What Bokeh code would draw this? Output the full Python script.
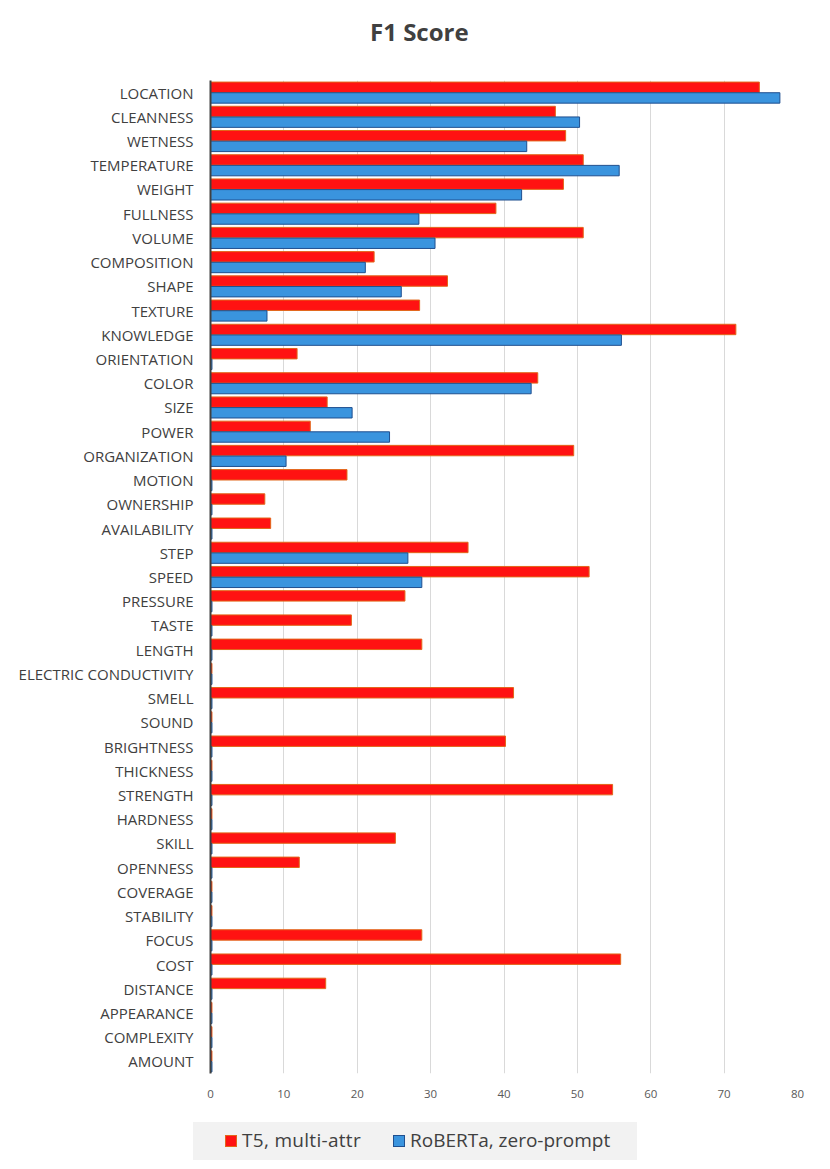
from bokeh.plotting import figure
from bokeh.models import ColumnDataSource, FactorRange, Range1d, FixedTicker, Div
from bokeh.layouts import column
from bokeh.transform import dodge
from bokeh.embed import file_html
from bokeh.resources import INLINE

categories = ["LOCATION", "CLEANNESS", "WETNESS", "TEMPERATURE", "WEIGHT", "FULLNESS",
              "VOLUME", "COMPOSITION", "SHAPE", "TEXTURE", "KNOWLEDGE", "ORIENTATION",
              "COLOR", "SIZE", "POWER", "ORGANIZATION", "MOTION", "OWNERSHIP",
              "AVAILABILITY", "STEP", "SPEED", "PRESSURE", "TASTE", "LENGTH",
              "ELECTRIC CONDUCTIVITY", "SMELL", "SOUND", "BRIGHTNESS", "THICKNESS",
              "STRENGTH", "HARDNESS", "SKILL", "OPENNESS", "COVERAGE", "STABILITY",
              "FOCUS", "COST", "DISTANCE", "APPEARANCE", "COMPLEXITY", "AMOUNT"]

t5_multi_attr = [74.8, 47.0, 48.4, 50.8, 48.1, 38.9,
                 50.8, 22.3, 32.3, 28.5, 71.6, 11.8,
                 44.6, 15.9, 13.6, 49.5, 18.6, 7.4,
                 8.2, 35.1, 51.6, 26.5, 19.2, 28.8,
                 0.2, 41.3, 0.2, 40.2, 0.2,
                 54.8, 0.2, 25.2, 12.1, 0.2, 0.2,
                 28.8, 55.9, 15.7, 0.2, 0.2, 0.2]

roberta_zero_prompt = [77.6, 50.3, 43.1, 55.7, 42.4, 28.4,
                       30.6, 21.1, 26.0, 7.7, 56.0, 0.2,
                       43.7, 19.3, 24.4, 10.3, 0.2, 0.2,
                       0.2, 26.9, 28.8, 0.2, 0.2, 0.2,
                       0.2, 0.2, 0.2, 0.2, 0.2,
                       0.2, 0.2, 0.2, 0.2, 0.2, 0.2,
                       0.2, 0.2, 0.2, 0.2, 0.2, 0.2]

x_ticks = [0, 10, 20, 30, 40, 50, 60, 70, 80]
series_names = ["T5, multi-attr", "RoBERTa, zero-prompt"]
chart_title = "F1 Score"

FONT = "Open Sans"
TXT = "#404040"
RED, RED_LINE = "#ff1212", "#e2661a"
BLUE, BLUE_LINE = "#3a94de", "#1f4f8f"

source = ColumnDataSource(data=dict(cat=categories, t5=t5_multi_attr, rob=roberta_zero_prompt))

title_div = Div(text=(f'<div style="margin-top:20px;margin-left:370px;font-family:\'{FONT}\';'
                      f'font-weight:bold;font-size:24px;line-height:24px;color:{TXT};'
                      f'white-space:nowrap;">{chart_title}</div>'),
                width=814, height=50, margin=(0, 0, 0, 0))

p = figure(width=814, height=1060, output_backend="svg", toolbar_location=None,
           y_range=FactorRange(factors=categories[::-1], range_padding=0),
           x_range=Range1d(0, 80),
           min_border_left=210, min_border_right=17, min_border_top=30, min_border_bottom=37)

p.hbar(y=dodge("cat", 0.22, range=p.y_range), left=0, right="t5", height=0.43, source=source,
       fill_color=RED, line_color=RED_LINE, line_width=1)
p.hbar(y=dodge("cat", -0.22, range=p.y_range), left=0, right="rob", height=0.43, source=source,
       fill_color=BLUE, line_color=BLUE_LINE, line_width=1)

p.outline_line_color = None
p.ygrid.grid_line_color = None
p.xgrid.grid_line_color = "#d9d9d9"
p.xgrid.grid_line_width = 1

p.xaxis.ticker = FixedTicker(ticks=x_ticks)
p.xaxis.axis_line_color = None
p.xaxis.major_tick_line_color = None
p.xaxis.minor_tick_line_color = None
p.xaxis.major_label_text_font = FONT
p.xaxis.major_label_text_font_size = "11.5px"
p.xaxis.major_label_text_color = "#595959"
p.xaxis.major_label_standoff = 10

p.yaxis.axis_line_color = "#404040"
p.yaxis.axis_line_width = 2
p.yaxis.major_tick_line_color = None
p.yaxis.minor_tick_line_color = None
p.yaxis.major_label_text_font = FONT
p.yaxis.major_label_text_font_size = "15px"
p.yaxis.major_label_text_color = TXT
p.yaxis.major_label_standoff = 11

def key(color, line, ml):
    return (f'<span style="display:inline-block;width:12px;height:12px;background:{color};'
            f'border:1px solid {line};margin-left:{ml}px;margin-right:5px;"></span>')

legend_html = (
    '<div style="margin-top:12px;margin-left:193px;width:444px;height:38px;background:#f2f2f2;'
    f'display:flex;align-items:center;font-family:\'{FONT}\';font-size:19px;color:{TXT};white-space:nowrap;">'
    + key(RED, RED_LINE, 32) + f'<span style="letter-spacing:0.3px">{series_names[0]}</span>'
    + key(BLUE, BLUE_LINE, 32) + f'<span>{series_names[1]}</span>'
    + '</div>'
)
lg = Div(text=legend_html, width=814, height=52, margin=(0, 0, 0, 0))

layout = column(title_div, p, lg, spacing=0)
open("out.html", "w").write(file_html(layout, INLINE))
